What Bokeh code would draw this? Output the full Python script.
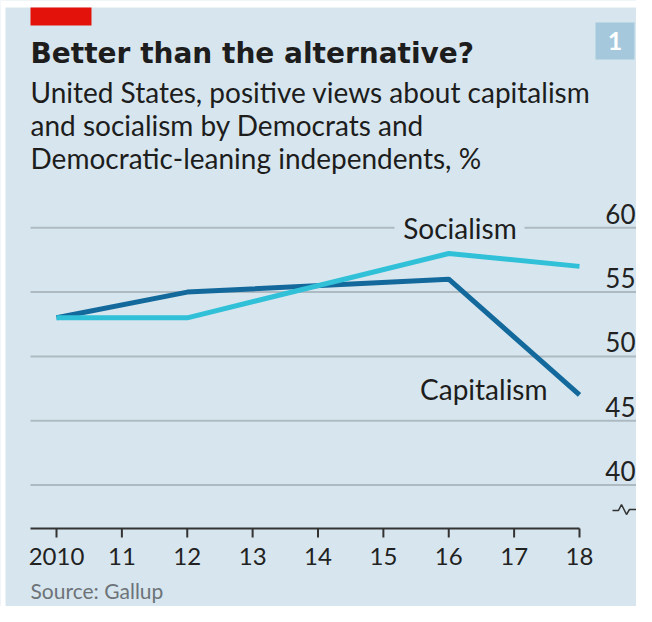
from bokeh.plotting import figure
from bokeh.models import Range1d
from bokeh.embed import file_html
from bokeh.resources import INLINE
from bokeh.core.properties import value

# ---- data ----
years = [2010, 2012, 2016, 2018]
capitalism = [53, 55, 56, 47]
socialism = [53, 53, 58, 57]
x_ticks = [2010, 2011, 2012, 2013, 2014, 2015, 2016, 2017, 2018]
x_tick_labels = ["2010", "11", "12", "13", "14", "15", "16", "17", "18"]
y_ticks = [40, 45, 50, 55, 60]
y_tick_labels = ["40", "45", "50", "55", "60"]
title_text = "Better than the alternative?"
subtitle_lines = [
    "United States, positive views about capitalism",
    "and socialism by Democrats and",
    "Democratic-leaning independents, %",
]
source_text = "Source: Gallup"
chart_number = "1"
series_names = ["Capitalism", "Socialism"]

# ---- style / layout ----
BG = "#d7e6ee"
FONT = "Lato"
TITLE_FONT = "DejaVu Sans"
W, H = 636, 606
C_CAP = "#13699c"
C_SOC = "#30c0d8"
DARK = "#1d1d1d"
AX = "#333333"
GRID = "#aebac2"

# pixel <-> data mapping of the plot area (2010 at x=56, step 65.375 px/yr; 40 at y=484.5, 12.86 px/pt)
PX_YEAR, X_2010 = 65.375, 56.0
PX_UNIT, Y_40 = 12.86, 484.5


def X(px):
    return 2010 + (px - X_2010) / PX_YEAR


def Y(py):
    return 40 - (py - Y_40) / PX_UNIT


p = figure(width=W, height=H, x_range=Range1d(X(0), X(W)), y_range=Range1d(Y(H), Y(0)),
           x_axis_type=None, y_axis_type=None, toolbar_location=None,
           output_backend="svg", min_border=0, title=None)
p.background_fill_color = BG
p.border_fill_color = BG
p.outline_line_color = None

# white page strips (top / left) and header decorations
p.quad(left=[X(0), X(0)], right=[X(W), X(5)], top=[Y(0), Y(0)], bottom=[Y(7), Y(H)],
       color="white", line_width=0)
p.quad(left=[X(30)], right=[X(91)], top=[Y(7)], bottom=[Y(25)], color="#e3120b", line_width=0)
p.quad(left=[X(595)], right=[X(634)], top=[Y(22)], bottom=[Y(59)], color="#a6c8dc", line_width=0)
p.text(x=[X(614.5)], y=[Y(40.5)], text=[chart_number], text_align="center", text_baseline="middle",
       text_font=value(FONT), text_font_style="bold", text_font_size="25px", text_color="white")

# titles
p.text(x=[X(30)], y=[Y(52.5)], text=[title_text], text_baseline="middle",
       text_font=value(TITLE_FONT), text_font_style="bold", text_font_size="28px", text_color=DARK)
p.text(x=[X(30)] * 3, y=[Y(91), Y(124), Y(157)], text=subtitle_lines, text_baseline="middle",
       text_font=value(FONT), text_font_size="28px", text_color=DARK)

# grid lines
p.segment(x0=[X(30)] * len(y_ticks), x1=[X(W)] * len(y_ticks), y0=y_ticks, y1=y_ticks,
          line_color=GRID, line_width=2)
# y tick labels (right, above grid lines)
p.text(x=[X(635)] * len(y_ticks), y=y_ticks, text=y_tick_labels, text_align="right",
       text_baseline="middle", y_offset=-14,
       text_font=value(FONT), text_font_size="26px", text_color="#222222")

# gap in the 60 grid line for the "Socialism" label
p.quad(left=[X(394)], right=[X(524)], top=[Y(221)], bottom=[Y(234)], color=BG, line_width=0)

# x axis
y_axis_line = Y(528)
p.segment(x0=[X(30)], x1=[x_ticks[-1]], y0=[y_axis_line], y1=[y_axis_line],
          line_color=AX, line_width=2)
p.segment(x0=x_ticks, x1=x_ticks, y0=[y_axis_line] * len(x_ticks), y1=[Y(537)] * len(x_ticks),
          line_color=AX, line_width=2)
p.text(x=x_ticks, y=[Y(556)] * len(x_ticks), text=x_tick_labels, text_align="center",
       text_baseline="middle", text_font=value(FONT), text_font_size="24px", text_color="#222222")

# axis-break symbol
bx = [612, 618, 621, 626, 629, 636]
by = [510, 510, 504, 514, 509, 509]
p.line([X(v) for v in bx], [Y(v) for v in by], line_color=AX, line_width=1.5)

# data lines
p.line(years, capitalism, line_color=C_CAP, line_width=5)
p.line(years, socialism, line_color=C_SOC, line_width=5)

# series labels
p.text(x=[X(459.5)], y=[60], text=[series_names[1]], text_align="center", text_baseline="middle",
       text_font=value(FONT), text_font_size="28px", text_color=DARK)
p.text(x=[X(547)], y=[Y(388)], text=[series_names[0]], text_align="right", text_baseline="middle",
       text_font=value(FONT), text_font_size="28px", text_color=DARK)

# source
p.text(x=[X(30)], y=[Y(590)], text=[source_text], text_baseline="middle",
       text_font=value(FONT), text_font_size="21px", text_color="#6d7378")

open("out.html", "w").write(file_html(p, INLINE))
